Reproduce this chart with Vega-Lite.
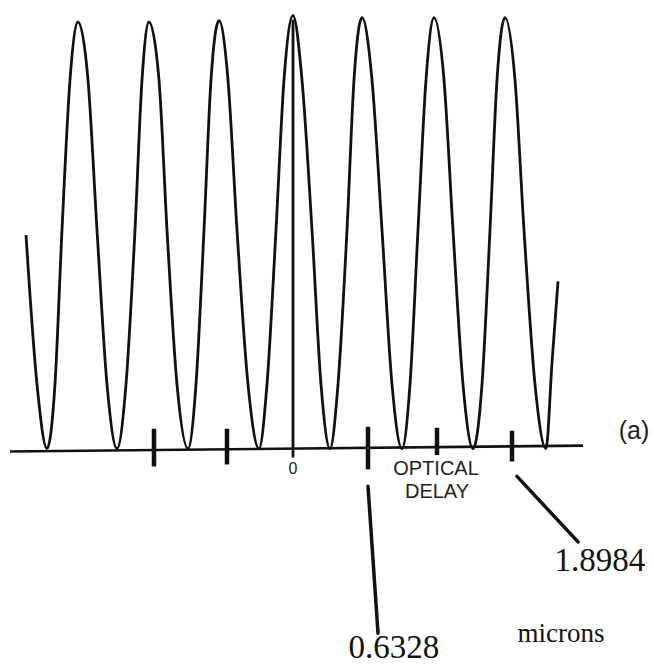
{
  "$schema": "https://vega.github.io/schema/vega-lite/v6.json",
  "width": 654,
  "height": 665,
  "autosize": {"type": "fit", "contains": "padding"},
  "padding": 0,
  "background": "white",
  "config": {"view": {"stroke": null}},
  "datasets": {
    "curve": [
      {"x": -2.3466, "y": 0.498}, {"x": -2.25, "y": 0.15}, {"x": -2.1621, "y": 0.0},
      {"x": -2.0918, "y": 0.15}, {"x": -2.0302, "y": 0.51}, {"x": -1.9599, "y": 0.86}, {"x": -1.8896, "y": 0.995}, {"x": -1.8017, "y": 0.86}, {"x": -1.7226, "y": 0.51}, {"x": -1.6347, "y": 0.15}, {"x": -1.5468, "y": 0.0},
      {"x": -1.4677, "y": 0.15}, {"x": -1.3886, "y": 0.51}, {"x": -1.3271, "y": 0.86}, {"x": -1.2656, "y": 0.995}, {"x": -1.1777, "y": 0.86}, {"x": -1.1074, "y": 0.51}, {"x": -1.0195, "y": 0.15}, {"x": -0.9228, "y": 0.0},
      {"x": -0.8525, "y": 0.15}, {"x": -0.7822, "y": 0.51}, {"x": -0.7207, "y": 0.86}, {"x": -0.6504, "y": 0.998}, {"x": -0.5713, "y": 0.86}, {"x": -0.4922, "y": 0.51}, {"x": -0.3955, "y": 0.15}, {"x": -0.2988, "y": 0.0},
      {"x": -0.2285, "y": 0.15}, {"x": -0.1494, "y": 0.51}, {"x": -0.0791, "y": 0.86}, {"x": 0.0, "y": 1.01}, {"x": 0.0791, "y": 0.86}, {"x": 0.167, "y": 0.51}, {"x": 0.2461, "y": 0.15}, {"x": 0.3252, "y": 0.0},
      {"x": 0.3955, "y": 0.15}, {"x": 0.4746, "y": 0.51}, {"x": 0.5361, "y": 0.86}, {"x": 0.6064, "y": 1.005}, {"x": 0.6943, "y": 0.86}, {"x": 0.7822, "y": 0.51}, {"x": 0.8701, "y": 0.15}, {"x": 0.958, "y": 0.0},
      {"x": 1.0283, "y": 0.15}, {"x": 1.0986, "y": 0.51}, {"x": 1.1689, "y": 0.86}, {"x": 1.2392, "y": 1.005}, {"x": 1.3271, "y": 0.86}, {"x": 1.4062, "y": 0.51}, {"x": 1.4941, "y": 0.15}, {"x": 1.582, "y": 0.0},
      {"x": 1.6611, "y": 0.15}, {"x": 1.7314, "y": 0.51}, {"x": 1.7929, "y": 0.86}, {"x": 1.8632, "y": 1.005}, {"x": 1.9511, "y": 0.86}, {"x": 2.0302, "y": 0.51}, {"x": 2.1269, "y": 0.15}, {"x": 2.2236, "y": 0.0},
      {"x": 2.2763, "y": 0.2}, {"x": 2.3291, "y": 0.39}
    ],
    "baseline": [
      {"x": -2.4873, "y": -0.0069}, {"x": 2.5488, "y": 0.0069}
    ],
    "ticks": [
      {"x": -1.2217, "y": 0.0463, "y2": -0.0417},
      {"x": -0.5801, "y": 0.0463, "y2": -0.037},
      {"x": 0.6592, "y": 0.0509, "y2": -0.0486},
      {"x": 1.2656, "y": 0.0486, "y2": -0.015},
      {"x": 1.9248, "y": 0.0417, "y2": -0.0301}
    ],
    "center": [
      {"x": 0.0, "y": 1.0, "y2": -0.0208}
    ],
    "leaders": [
      {"x": 0.6592, "y": -0.088, "x2": 0.7471, "y2": -0.4306},
      {"x": 1.9687, "y": -0.0648, "x2": 2.5048, "y2": -0.2176}
    ],
    "zero": [{"x": 0.0, "y": -0.0486, "label": "0"}],
    "caps": [
      {"x": 1.2568, "y": -0.0475, "label": "OPTICAL"},
      {"x": 1.2656, "y": -0.1007, "label": "DELAY"}
    ],
    "nums": [
      {"x": 2.6982, "y": -0.2847, "label": "1.8984"},
      {"x": 0.8877, "y": -0.4884, "label": "0.6328"}
    ],
    "unit": [{"x": 2.3554, "y": -0.4514, "label": "microns"}],
    "panel": [{"x": 2.997, "y": 0.0417, "label": "(a)"}]
  },
  "encoding": {
    "x": {"field": "x", "type": "quantitative", "scale": {"domain": [-2.5751, 3.1728], "nice": false, "zero": false}, "axis": null},
    "y": {"field": "y", "type": "quantitative", "scale": {"domain": [-0.4931, 1.0463], "nice": false, "zero": false}, "axis": null}
  },
  "layer": [
    {
      "data": {"name": "baseline"},
      "mark": {"type": "line", "color": "#111111", "strokeWidth": 2.6},
      "encoding": {}
    },
    {
      "data": {"name": "curve"},
      "mark": {"type": "line", "color": "#111111", "strokeWidth": 2.8, "interpolate": "monotone"},
      "encoding": {}
    },
    {
      "data": {"name": "center"},
      "mark": {"type": "rule", "color": "#111111", "strokeWidth": 2.8},
      "encoding": {"y2": {"field": "y2"}}
    },
    {
      "data": {"name": "ticks"},
      "mark": {"type": "rule", "color": "#111111", "strokeWidth": 4.5},
      "encoding": {"y2": {"field": "y2"}}
    },
    {
      "data": {"name": "leaders"},
      "mark": {"type": "rule", "color": "#111111", "strokeWidth": 3.5, "strokeCap": "round"},
      "encoding": {"x2": {"field": "x2"}, "y2": {"field": "y2"}}
    },
    {
      "data": {"name": "zero"},
      "mark": {"type": "text", "font": "Liberation Sans", "fontSize": 16, "baseline": "middle", "align": "center", "color": "#222222"},
      "encoding": {"text": {"field": "label"}}
    },
    {
      "data": {"name": "caps"},
      "mark": {"type": "text", "font": "Liberation Sans", "fontSize": 20, "baseline": "middle", "align": "center", "color": "#222222"},
      "encoding": {"text": {"field": "label"}}
    },
    {
      "data": {"name": "nums"},
      "mark": {"type": "text", "font": "Liberation Serif", "fontSize": 33, "baseline": "alphabetic", "align": "center", "color": "#111111"},
      "encoding": {"text": {"field": "label"}}
    },
    {
      "data": {"name": "unit"},
      "mark": {"type": "text", "font": "Liberation Serif", "fontSize": 27, "baseline": "alphabetic", "align": "center", "color": "#111111"},
      "encoding": {"text": {"field": "label"}}
    },
    {
      "data": {"name": "panel"},
      "mark": {"type": "text", "font": "Liberation Sans", "fontSize": 25, "baseline": "middle", "align": "center", "color": "#222222"},
      "encoding": {"text": {"field": "label"}}
    }
  ]
}
